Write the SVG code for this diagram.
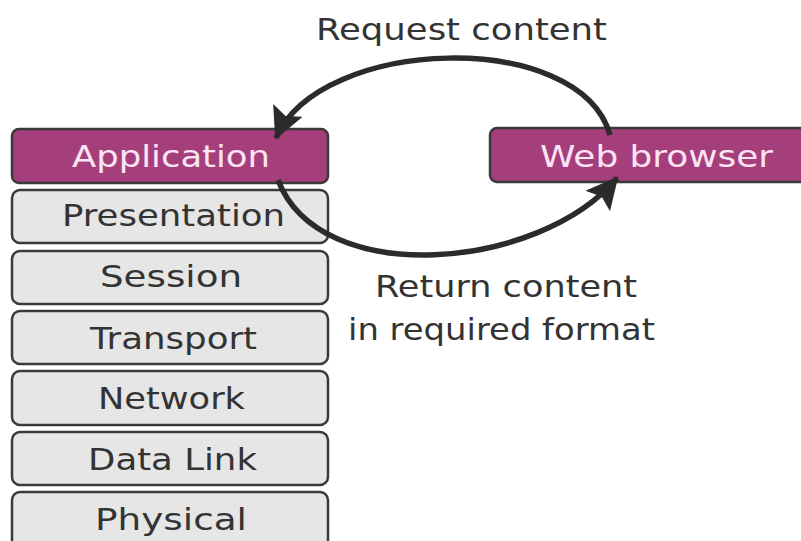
<svg xmlns="http://www.w3.org/2000/svg" width="801" height="541" viewBox="0 0 801 541">
  <style>
    .box { stroke: #3a3a3a; stroke-width: 2.5; }
    .layer { fill: #e6e6e6; }
    .hl { fill: #a53f7c; }
    text { font-family: "DejaVu Sans", "Liberation Sans", sans-serif; font-size: 30px; }
    .lbl-dark { fill: #333333; }
    .lbl-light { fill: #fbe4f3; }
    .note { fill: #333333; font-size: 30px; }
    .conn { fill: none; stroke: #2b2b2b; stroke-width: 5.5; }
  </style>
  <defs>
    <marker id="arrow" markerUnits="userSpaceOnUse" markerWidth="36" markerHeight="36" refX="30" refY="16" orient="auto">
      <path d="M0,0 L32,16 L0,32 L6,16 z" fill="#2b2b2b"/>
    </marker>
  </defs>
  <rect width="801" height="541" fill="#ffffff"/>

  <g id="application">
    <rect class="box hl" x="12" y="129" width="316" height="54" rx="7"/>
    <text class="lbl-light" x="72" y="167" textLength="198" lengthAdjust="spacingAndGlyphs">Application</text>
  </g>
  <g id="presentation">
    <rect class="box layer" x="12" y="190" width="316" height="53" rx="8"/>
    <text class="lbl-dark" x="62" y="226" textLength="223" lengthAdjust="spacingAndGlyphs">Presentation</text>
  </g>
  <g id="session">
    <rect class="box layer" x="12" y="251" width="316" height="53" rx="8"/>
    <text class="lbl-dark" x="100" y="287" textLength="142" lengthAdjust="spacingAndGlyphs">Session</text>
  </g>
  <g id="transport">
    <rect class="box layer" x="12" y="311" width="316" height="53" rx="8"/>
    <text class="lbl-dark" x="90" y="349" textLength="167" lengthAdjust="spacingAndGlyphs">Transport</text>
  </g>
  <g id="network">
    <rect class="box layer" x="12" y="371" width="316" height="54" rx="8"/>
    <text class="lbl-dark" x="98" y="409" textLength="147" lengthAdjust="spacingAndGlyphs">Network</text>
  </g>
  <g id="data-link">
    <rect class="box layer" x="12" y="432" width="316" height="53" rx="8"/>
    <text class="lbl-dark" x="88" y="470" textLength="169" lengthAdjust="spacingAndGlyphs">Data Link</text>
  </g>
  <g id="physical">
    <rect class="box layer" x="12" y="492" width="316" height="60" rx="8"/>
    <text class="lbl-dark" x="95" y="530" textLength="152" lengthAdjust="spacingAndGlyphs">Physical</text>
  </g>
  <g id="web-browser">
    <rect class="box hl" x="490" y="128" width="330" height="54" rx="7"/>
    <text class="lbl-light" x="540" y="167" textLength="233" lengthAdjust="spacingAndGlyphs">Web browser</text>
  </g>

  <g id="connectors">
    <path class="conn" d="M610,135 C580,28 320,36 276,138" marker-end="url(#arrow)"/>
    <path class="conn" d="M278,180 C320,290 540,270 617,178" marker-end="url(#arrow)"/>
  </g>

  <g id="labels">
    <text class="note" x="316" y="40" textLength="291" lengthAdjust="spacingAndGlyphs">Request content</text>
    <text class="note" x="375" y="297" textLength="262" lengthAdjust="spacingAndGlyphs">Return content</text>
    <text class="note" x="348" y="340" textLength="307" lengthAdjust="spacingAndGlyphs">in required format</text>
  </g>
</svg>
